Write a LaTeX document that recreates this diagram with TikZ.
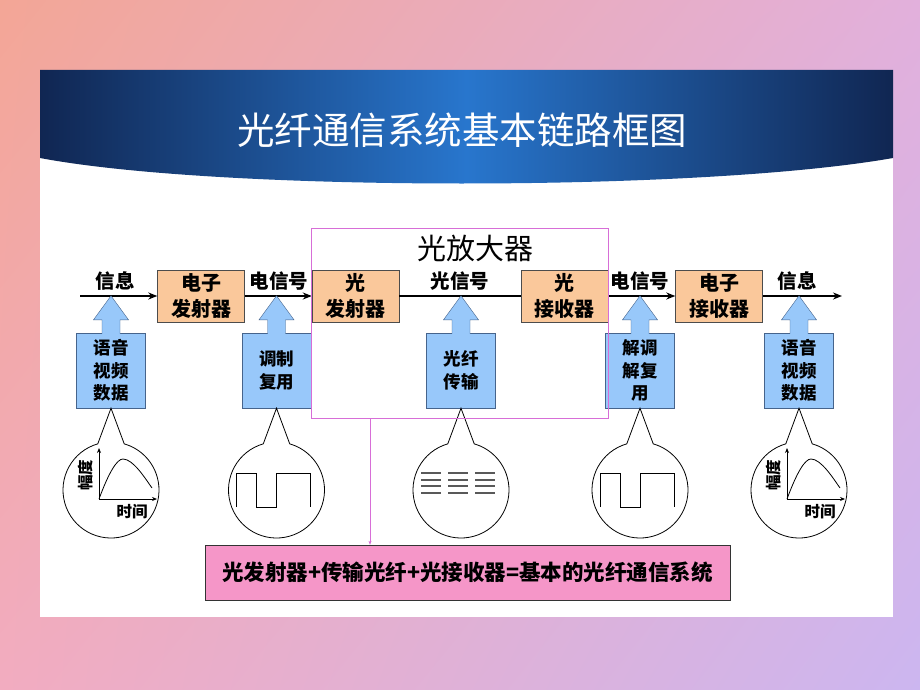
\documentclass[tikz,border=0pt]{standalone}
\usepackage{fontspec}
\setmainfont{Noto Sans CJK SC}
\usetikzlibrary{positioning,arrows.meta,shadings}
\definecolor{bgtl}{RGB}{243,166,150}
\definecolor{bgtr}{RGB}{226,176,220}
\definecolor{bgbl}{RGB}{242,172,192}
\definecolor{bgbr}{RGB}{204,182,240}
\definecolor{navy}{RGB}{16,38,82}
\definecolor{bannerblue}{RGB}{40,118,205}
\definecolor{boxorange}{RGB}{250,200,155}
\definecolor{srcblue}{RGB}{152,200,250}
\definecolor{srcline}{RGB}{70,100,140}
\definecolor{ampframe}{RGB}{215,110,215}
\definecolor{sumpink}{RGB}{245,150,200}

\begin{document}
\begin{tikzpicture}[x=1pt,y=-1pt,
   blk/.style={draw=black!70,fill=boxorange,minimum width=87pt,minimum height=52pt,inner sep=0pt,align=center,font=\fontsize{20}{26}\selectfont\bfseries},
   src/.style={draw=srcline,fill=srcblue,minimum width=69pt,minimum height=75pt,inner sep=0pt,align=center,font=\fontsize{17.5}{22.5}\selectfont\bfseries},
   sig/.style={inner sep=0pt,font=\fontsize{19.5}{22}\selectfont\bfseries},
   bus/.style={line width=1.6pt,-{Stealth[length=9pt,width=7pt]}},
   axis/.style={line width=0.8pt,-{Stealth[length=5pt,width=4pt]}},
   tiny/.style={inner sep=0pt,font=\fontsize{15.5}{17}\selectfont\bfseries}]
   \shade[upper left=bgtl,upper right=bgtr,lower left=bgbl,lower right=bgbr] (0,0) rectangle (920,690);
   \useasboundingbox (0,0) rectangle (920,690);
   \fill[white] (40,70) rectangle (893,617);
   \shade[left color=navy,right color=navy,middle color=bannerblue] (40,70) -- (893,70) -- (893,158) .. controls (700,192) and (220,192) .. (40,158) -- cycle;
   \node[text=white,font=\fontsize{37.5}{40}\selectfont] (title) at (462,130) {光纤通信系统基本链路框图};

   \node[blk] (etx) at (201,296) {电子\\发射器};
   \node[blk] (otx) at (355.5,296) {光\\发射器};
   \node[blk] (orx) at (564.5,296) {光\\接收器};
   \node[blk] (erx) at (719,296) {电子\\接收器};
   \coordinate (in) at (80,296);
   \coordinate (out) at (842,296);
   \draw[bus] (in) -- (etx);
   \draw[bus] (etx) -- (otx);
   \draw[line width=1.6pt] (otx) -- (orx);
   \draw[bus] (orx) -- (erx);
   \draw[bus] (erx) -- (out);

   \node[sig] (m1) at (115,281) {信息};
   \node[sig] (m2) at (279,281) {电信号};
   \node[sig] (m3) at (460,281) {光信号};
   \node[sig] (m4) at (640,281) {电信号};
   \node[sig] (m5) at (797,281) {信息};

   \foreach \i/\x/\t in {1/111/{语音\\视频\\数据},2/276.5/{调制\\复用},3/461/{光纤\\传输},4/640/{解调\\解复\\用},5/799/{语音\\视频\\数据}} {
      \node[src] (s\i) at (\x,370.5) {\t};
      \begin{scope}[shift={(s\i.north)}]
         \filldraw[draw=srcline,fill=srcblue] (-9,1) -- (-9,-13) -- (-17.5,-13) -- (0,-37) -- (17.5,-13) -- (9,-13) -- (9,1);
      \end{scope}
      \coordinate (c\i) at (\x,490);
      \draw[fill=white,line width=0.8pt] (s\i.south) -- ([shift={(106:48pt)}]c\i) arc[start angle=106,end angle=434,radius=48pt] -- cycle;
   }

   \foreach \c in {c1,c5} {
      \begin{scope}[shift={(\c)}]
         \draw[axis] (-12,9) -- (-12,-42);
         \draw[axis] (-12,9) -- (46,9);
         \draw[line width=0.8pt] (-12,9) .. controls (-2,-18) and (6,-31) .. (12,-31) .. controls (22,-31) and (34,-12) .. (41,-2);
         \node[tiny,rotate=90] at (-25,-15) {幅度};
         \node[tiny] at (21,22) {时间};
      \end{scope}
   }
   \foreach \c in {c2,c4} {
      \draw[line width=1pt,shift={(\c)}] (-40,17) -- (-40,-17) -- (-20,-17) -- (-20,17) -- (0,17) -- (0,-17) -- (34,-17) -- (34,17);
   }
   \foreach \gx in {-40,-13,14}
      \foreach \gy in {-17,-10,-4,3}
         \draw[black!65,line width=1.5pt,shift={(c3)}] (\gx,\gy) -- ++(20,0);

   \node[draw=ampframe,line width=1pt,minimum width=297pt,minimum height=190pt,inner sep=0pt] (amp) at (459.5,323) {};
   \node[font=\fontsize{29}{32}\selectfont,inner sep=0pt] (ampt) at (475,248) {光放大器};

   \node[draw=black!80,fill=sumpink,minimum width=525pt,minimum height=55pt,font=\fontsize{21.5}{24}\selectfont\bfseries] (sum) at (467.5,572.5) {光发射器+传输光纤+光接收器=基本的光纤通信系统};
   \coordinate (tap) at (370,418);
   \draw[ampframe,-{Stealth[length=4pt,width=3pt]}] (tap) -- (tap |- sum.north);
\end{tikzpicture}
\end{document}
